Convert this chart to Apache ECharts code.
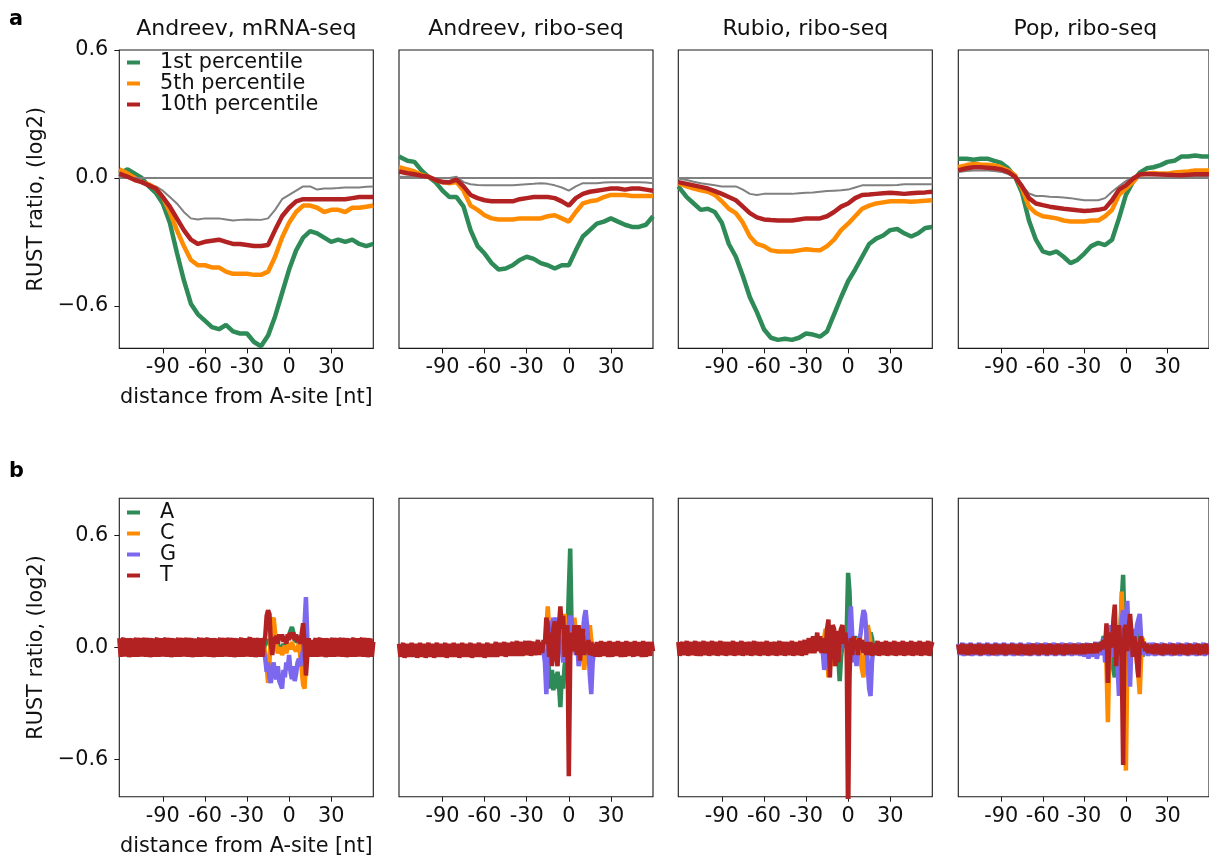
<!DOCTYPE html>
<html><head><meta charset="utf-8">
<script src="https://cdn.jsdelivr.net/npm/echarts@6/dist/echarts.min.js"></script>
<style>html,body{margin:0;padding:0;background:#fff}#c{width:1209px;height:859px}</style>
</head><body><div id="c"></div>
<script>
const TITLES = ['Andreev, mRNA-seq','Andreev, ribo-seq','Rubio, ribo-seq','Pop, ribo-seq'];
const TOP_NAMES = ['1st percentile','5th percentile','10th percentile'];
const NUC_NAMES = ['A','C','G','T'];
const X_TICKS = [-90,-60,-30,0,30];
const Y_TICKS = [-0.6,0,0.6];
const X_MIN = -121, X_MAX = 60;
const X_TOP = [-121,-115,-110,-105,-100,-95,-90,-85,-80,-75,-70,-65,-60,-55,-50,-45,-40,-35,-30,-25,-20,-15,-10,-5,0,5,10,15,20,25,30,35,40,45,50,55,60];

// top row, panel 1
const P1_GRAY = [.005,0,-.01,-.02,-.03,-.04,-.06,-.09,-.12,-.16,-.19,-.195,-.19,-.19,-.19,-.195,-.20,-.197,-.195,-.196,-.197,-.19,-.15,-.10,-.08,-.06,-.04,-.04,-.055,-.05,-.05,-.048,-.045,-.045,-.045,-.042,-.04];
const P1_Q1 = [.02,.04,.02,0,-.04,-.07,-.12,-.21,-.35,-.48,-.59,-.64,-.67,-.70,-.71,-.69,-.72,-.73,-.73,-.77,-.79,-.74,-.65,-.54,-.43,-.34,-.28,-.25,-.26,-.28,-.30,-.29,-.30,-.29,-.31,-.32,-.31];
const P1_Q5 = [.04,.02,0,-.02,-.03,-.05,-.09,-.16,-.245,-.32,-.385,-.41,-.41,-.42,-.42,-.44,-.45,-.45,-.45,-.455,-.455,-.44,-.37,-.28,-.21,-.16,-.13,-.13,-.14,-.16,-.15,-.15,-.16,-.14,-.14,-.135,-.13];
const P1_Q10 = [.02,.005,-.01,-.02,-.035,-.05,-.09,-.135,-.19,-.245,-.29,-.31,-.30,-.295,-.29,-.30,-.31,-.31,-.315,-.32,-.32,-.315,-.245,-.18,-.14,-.11,-.10,-.10,-.10,-.10,-.10,-.10,-.10,-.095,-.09,-.09,-.09];
// panel 2
const P2_GRAY = [.005,.005,.005,.005,.005,0,-.003,0,.005,-.02,-.03,-.033,-.035,-.035,-.035,-.035,-.035,-.032,-.03,-.028,-.025,-.028,-.035,-.045,-.06,-.04,-.025,-.025,-.025,-.022,-.02,-.02,-.02,-.02,-.02,-.022,-.025];
const P2_Q1 = [.10,.08,.075,.035,.005,-.02,-.06,-.09,-.09,-.135,-.245,-.32,-.355,-.40,-.43,-.425,-.41,-.385,-.37,-.38,-.40,-.41,-.425,-.41,-.41,-.34,-.275,-.245,-.215,-.205,-.19,-.205,-.22,-.23,-.23,-.22,-.18];
const P2_Q5 = [.05,.04,.03,.015,.005,-.01,-.02,-.025,-.02,-.06,-.13,-.15,-.175,-.19,-.195,-.195,-.195,-.19,-.19,-.19,-.19,-.18,-.175,-.19,-.205,-.16,-.12,-.11,-.105,-.09,-.08,-.08,-.08,-.085,-.085,-.085,-.085];
const P2_Q10 = [.03,.022,.017,.01,.005,-.01,-.02,-.02,-.008,-.04,-.08,-.095,-.105,-.11,-.11,-.11,-.11,-.10,-.095,-.09,-.09,-.09,-.095,-.11,-.13,-.095,-.075,-.065,-.06,-.055,-.05,-.05,-.055,-.05,-.05,-.055,-.06];
// panel 3
const P3_GRAY = [-.003,-.01,-.018,-.025,-.03,-.035,-.04,-.04,-.04,-.055,-.075,-.08,-.075,-.075,-.075,-.075,-.075,-.072,-.07,-.068,-.065,-.062,-.06,-.058,-.055,-.045,-.035,-.035,-.035,-.035,-.035,-.033,-.03,-.03,-.03,-.03,-.03];
const P3_Q1 = [-.04,-.09,-.12,-.15,-.145,-.16,-.21,-.31,-.37,-.46,-.56,-.63,-.71,-.75,-.76,-.755,-.76,-.75,-.73,-.735,-.745,-.72,-.64,-.56,-.485,-.43,-.37,-.31,-.285,-.27,-.245,-.24,-.26,-.275,-.26,-.235,-.23];
const P3_Q5 = [-.025,-.04,-.05,-.058,-.065,-.08,-.11,-.145,-.165,-.21,-.275,-.31,-.32,-.34,-.345,-.345,-.345,-.34,-.335,-.338,-.34,-.32,-.29,-.245,-.215,-.18,-.145,-.13,-.12,-.115,-.11,-.11,-.11,-.112,-.11,-.107,-.105];
const P3_Q10 = [-.02,-.028,-.035,-.042,-.05,-.062,-.075,-.09,-.105,-.135,-.165,-.185,-.195,-.198,-.20,-.20,-.20,-.195,-.19,-.19,-.19,-.18,-.16,-.135,-.12,-.095,-.08,-.078,-.075,-.072,-.07,-.072,-.075,-.072,-.07,-.068,-.065];
// panel 4
const P4_GRAY = [.028,.032,.035,.035,.035,.032,.028,.018,.005,-.035,-.073,-.085,-.085,-.088,-.09,-.092,-.095,-.10,-.105,-.105,-.105,-.095,-.065,-.04,-.015,.003,.017,.015,.012,.012,.012,.01,.008,.007,.006,.005,.005];
const P4_Q1 = [.09,.09,.085,.09,.09,.08,.07,.045,.005,-.07,-.20,-.29,-.345,-.355,-.345,-.37,-.40,-.385,-.355,-.32,-.305,-.315,-.29,-.19,-.08,-.02,.025,.045,.05,.06,.075,.08,.10,.10,.105,.10,.10];
const P4_Q5 = [.05,.06,.065,.063,.062,.058,.05,.035,.012,-.05,-.135,-.165,-.18,-.185,-.19,-.20,-.205,-.205,-.205,-.20,-.20,-.18,-.15,-.08,-.05,-.02,.015,.02,.023,.02,.02,.025,.028,.03,.035,.035,.035];
const P4_Q10 = [.035,.045,.05,.05,.048,.045,.04,.028,.005,-.04,-.095,-.12,-.128,-.135,-.14,-.145,-.148,-.152,-.155,-.153,-.15,-.143,-.105,-.055,-.035,-.005,.017,.018,.017,.016,.015,.013,.012,.015,.017,.017,.017];

// bottom row: T (and panel-4 G) per nt from X_MIN to X_MAX; A, C, G per nt from C_START
const C_START = -20;
const B1_T = [.05,-.05,.03,.052,-.048,.02,.05,-.052,.03,.048, -.05,.025,.052,-.05,.03,.05,-.048,.02,.052,-.05, .03,.05,-.052,.025,.048,-.05,.03,.052,-.05,.02, .05,-.048,.03,.052,-.05,.025,.05,-.052,.03,.048, -.05,.02,.052,-.05,.03,.05,-.048,.025,.052,-.05, .03,.05,-.052,.02,.048,-.05,.03,.052,-.05,.025, .05,-.048,.03,.052,-.05,.02,.05,-.052,.03,.048, -.05,.025,.052,-.05,.03,.05,-.048,.02,.052,-.05, .03,.05,-.052,.025,.048,-.05,.03,.052,-.05,.02, .05,-.048,.03,.055,-.05,.025,.05,-.052,.03,.05, -.05,
 .05,-.05,.03,.06,.17,.20,.18,.02,-.04,.04, .03,.06,.02,.07,.04,.07,.03,.06,.02,.07, .04,.08,.05,.08,.04,.07,.03,.06,.02,.01, .13,.02,-.15,-.04,.05,-.05,.04,-.05,.03,
 .05,-.05,.03,.052,-.048,.02,.05,-.052,.03,.048, -.05,.025,.052,-.05,.03,.05,-.048,.02,.052,-.05, .03,.05,-.052,.025,.048,-.05,.03,.052,-.05,.02, .05,-.048,.03,.052,-.05,.025,.05,-.052,.03,.048, -.05,.03];
const B1_A = [0,.01,-.01,.02,.04,.05,.03,-.02,.01,0, .02,-.01,.02,0,.01,-.01,.02,0,.03,.05, .06,.09,.11,.08,.04,.05,.03,.06,.07,.03, 0,.02,-.02,.01,0,.01,-.01,0,.01];
const B1_C = [.01,-.02,.01,-.03,-.10,-.19,-.08,.05,.14,.16, .08,0,-.03,-.02,0,-.04,-.02,.01,-.03,0, .02,-.01,.03,0,.01,-.02,0,.02,-.05,-.12, -.20,-.22,-.08,0,.02,-.01,.01,0,.01];
const B1_G = [-.02,.01,-.02,-.06,-.13,-.08,-.16,-.19,-.12,-.08, -.15,-.17,-.10,-.18,-.20,-.22,-.12,-.16,-.08,-.12, -.04,-.13,-.17,-.10,-.18,-.14,-.08,-.06,-.10,-.04, -.02,.12,.27,.05,-.03,-.04,0,-.02,0];

const B2_T = [.02,-.05,-.01,.025,-.055,-.01,.02,-.05,-.02,.025, -.05,-.01,.02,-.055,-.015,.025,-.05,-.01,.02,-.055, -.01,.025,-.05,-.02,.02,-.055,-.01,.025,-.05,-.015, .02,-.05,-.01,.025,-.055,-.01,.02,-.05,-.02,.025, -.05,-.01,.02,-.055,-.015,.025,-.05,-.01,.02,-.05, -.01,.025,-.055,-.015,.02,-.05,-.01,.025,-.05,-.02, .02,-.055,-.01,.025,-.05,-.015,.02,-.05,-.01,.03, -.05,-.01,.025,-.045,-.01,.03,-.05,-.01,.025,-.045, 0,.03,-.045,-.01,.035,-.045,0,.03,-.045,-.01, .035,-.04,0,.035,-.045,.01,.03,-.04,0,.04, -.04,
 .03,-.03,.04,.02,.16,.12,-.05,.08,-.10,.10, .14,-.05,-.10,.12,.22,.10,.17,-.05,.02,.12, -.69,-.05,.08,-.02,.12,.02,-.04,.12,-.07,.05, .10,-.04,.03,-.03,.04,-.04,.03,-.045,.02,
 -.05,.03,-.01,-.05,.035,-.02,-.045,.03,-.01,-.05, .035,-.015,-.05,.03,-.01,-.045,.035,-.02,-.05,.03, -.01,-.05,.035,-.015,-.045,.03,-.01,-.05,.035,-.02, -.045,.03,-.01,-.05,.035,-.015,-.05,.03,-.01,-.045, .03,-.02];
const B2_A = [0,.01,-.01,.01,0,-.02,-.15,-.22,-.12,-.23, -.14,-.22,-.13,-.20,-.32,-.15,-.22,-.10,-.05,.05, .30,.53,.10,0,.04,.02,0,.03,-.02,.02, 0,.01,-.01,.02,0,.01,-.01,0,.01];
const B2_C = [0,.01,-.01,.02,.10,.22,.10,-.02,.12,.05, .15,.03,.10,.05,.08,.02,.12,.18,.08,.03, .10,.05,.12,.06,.16,.08,0,.05,-.03,.02, -.05,-.12,-.02,.05,.08,.12,.04,0,.01];
const B2_G = [-.03,.01,-.02,-.08,-.25,-.05,.12,.14,.10,.16, .12,.16,.10,.05,.02,0,-.08,.02,.10,.05, .12,.17,.15,.08,.02,-.04,.03,-.10,-.04,.02, .08,.16,.20,.12,0,-.15,-.25,-.08,-.02];

const B3_T = [.03,-.045,0,.03,-.04,-.01,.035,-.045,0,.03, -.04,-.005,.035,-.045,0,.03,-.045,-.01,.035,-.04, 0,.03,-.045,-.005,.035,-.04,0,.03,-.045,-.01, .035,-.04,0,.03,-.045,-.005,.03,-.04,0,.035, -.045,-.01,.03,-.04,0,.035,-.045,-.005,.03,-.04, 0,.03,-.045,-.01,.035,-.04,0,.03,-.045,-.005, .03,-.04,0,.035,-.045,-.01,.03,-.04,0,.03, -.045,-.005,.035,-.04,0,.03,-.045,-.01,.03,-.04, 0,.035,-.045,-.005,.03,-.04,0,.035,-.045,0, .04,-.04,.01,.05,-.03,.02,.06,-.03,.02,.08, -.02,
 .06,-.03,.05,.02,-.03,.10,.15,-.16,.02,.12, .10,-.10,.09,-.08,.05,.10,.12,.02,.08,0, -.95,-.15,.05,-.04,.06,0,.04,-.04,.05,.02, .04,-.03,.03,-.04,.03,-.04,.03,-.045,.02,
 -.04,0,.035,-.045,-.005,.03,-.04,0,.035,-.045, -.01,.03,-.04,0,.035,-.045,-.005,.03,-.04,0, .035,-.045,-.01,.03,-.04,0,.035,-.045,-.005,.03, -.04,0,.035,-.045,-.01,.03,-.04,0,.035,-.045, 0,.03];
const B3_A = [0,.01,-.01,.01,0,.02,-.01,.02,0,.01, -.01,.02,0,-.05,-.18,-.05,.02,0,.03,.08, .40,.30,.05,.02,.04,.06,.03,.04,.05,.02, .03,.01,.03,.02,.04,.06,.08,.05,0];
const B3_C = [.01,-.01,.01,.02,.10,0,-.16,-.05,.10,.02, -.10,.05,.08,-.02,.05,.10,.02,.08,.05,.02, -.30,-.10,.08,.05,.02,-.03,.05,-.02,.06,-.08, -.12,-.16,-.05,.05,.12,.08,.02,0,.01];
const B3_G = [-.02,.01,-.03,-.12,-.06,.02,.04,-.03,.06,-.02, .05,-.02,.04,0,-.04,.06,.10,.04,.08,0, -.05,.10,.22,.05,-.08,-.02,-.10,-.02,.03,.08, .15,.20,.18,.08,-.10,-.22,-.26,-.08,0];

const B4_T = [.015,-.035,-.005,.02,-.035,-.01,.015,-.04,-.005,.02, -.035,-.01,.015,-.035,-.005,.02,-.04,-.01,.015,-.035, -.005,.02,-.035,-.01,.015,-.04,-.005,.02,-.035,-.01, .015,-.035,-.005,.02,-.04,-.01,.015,-.035,-.005,.02, -.035,-.01,.015,-.04,-.005,.02,-.035,-.01,.015,-.04, -.005,.015,-.04,-.01,.02,-.035,-.005,.015,-.04,-.01, .02,-.035,-.005,.015,-.04,-.01,.02,-.035,-.005,.015, -.04,-.01,.02,-.035,-.005,.015,-.04,-.01,.02,-.035, -.005,.015,-.035,-.01,.02,-.035,-.005,.015,-.035,-.01, .02,-.035,-.005,.02,-.03,0,.02,-.03,0,.025, -.03,
 .02,-.02,.03,-.01,.04,0,.13,-.19,.02,.08, 0,.15,.23,-.10,.05,.12,0,-.05,-.63,.10, .12,-.02,.10,.18,.08,-.05,.06,.02,-.08,-.16, .02,.06,0,.03,-.02,.02,-.03,.01,-.03,
 .015,-.035,-.005,.02,-.035,-.01,.015,-.04,-.005,.02, -.035,-.01,.015,-.035,-.005,.02,-.04,-.01,.015,-.035, -.005,.02,-.035,-.01,.015,-.04,-.005,.02,-.035,-.01, .015,-.035,-.005,.02,-.04,-.01,.015,-.035,-.005,.02, -.035,-.01];
const B4_A = [0,.01,-.01,.03,.06,.04,.08,0,.05,.02, -.05,-.12,-.16,-.05,.08,.04,.10,.25,.39,.10, .02,.08,.05,-.05,.06,.02,.08,-.03,.05,-.02, .08,.02,-.05,.02,0,.01,-.01,0,.01];
const B4_C = [0,.01,-.01,.01,-.02,.04,-.10,-.40,-.05,.10, .05,-.02,.12,-.05,.10,-.05,.05,.30,.05,-.30, -.66,-.10,.15,.05,-.05,.10,0,.05,-.08,-.15, -.25,-.05,.05,0,.01,-.01,.01,0,.01];
const B4_G = [.02,-.04,-.01,.025,-.045,0,.02,-.04,-.01,.025, -.045,-.005,.02,-.04,-.01,.025,-.045,0,.02,-.04, -.01,.025,-.045,-.005,.02,-.04,-.01,.025,-.045,0, .02,-.04,-.01,.025,-.045,-.005,.02,-.04,-.01,.025, -.045,0,.02,-.04,-.01,.025,-.045,-.005,.02,-.04, -.01,.025,-.045,0,.02,-.04,-.01,.025,-.045,-.005, .02,-.04,-.01,.025,-.045,0,.02,-.04,-.01,.025, -.045,-.005,.02,-.04,-.01,.025,-.045,0,.02,-.04, -.01,.025,-.045,-.005,.02,-.04,-.01,.025,-.045,0, .02,-.05,-.01,.025,-.06,0,.02,-.05,-.02,.03, -.06,
 -.03,.03,.03,-.04,.05,-.08,.10,.02,-.06,.12, .08,-.05,.02,.12,-.10,-.26,.05,.15,.20,.05, .10,.25,.05,-.21,.02,.10,-.05,.05,.12,.15, .18,.05,-.04,.03,-.04,.02,-.045,.025,-.04,
 -.01,.025,-.045,0,.02,-.04,-.01,.025,-.045,-.005, .02,-.04,-.01,.025,-.045,0,.02,-.04,-.01,.025, -.045,-.005,.02,-.04,-.01,.025,-.045,0,.02,-.04, -.01,.025,-.045,-.005,.02,-.04,-.01,.025,-.045,0, .02,-.04];

const TOP_DATA = [[P1_GRAY,P1_Q1,P1_Q5,P1_Q10],[P2_GRAY,P2_Q1,P2_Q5,P2_Q10],[P3_GRAY,P3_Q1,P3_Q5,P3_Q10],[P4_GRAY,P4_Q1,P4_Q5,P4_Q10]];
const BOT_DATA = [[B1_A,B1_C,B1_G,B1_T],[B2_A,B2_C,B2_G,B2_T],[B3_A,B3_C,B3_G,B3_T],[B4_A,B4_C,B4_G,B4_T]];

const GREEN='#2e8b57', ORANGE='#ff8c00', RED='#b22222', PURPLE='#7b68ee', GRAY='#808080';
const FONT = 'DejaVu Sans';
const FS = 20.8;
const TITLE_FS = 22;
const TXT = '#111';
const LW = 4.5;
const COL_LEFT = [119.3, 399, 678.3, 958.3];
const PW = 254, PH = 298.4;
const ROW_TOP = [50, 498.3];
const ROW_YMAX = [0.6, 0.8];

function toPairs(xs, ys){ return ys.map((y,i)=>[xs[i], y]); }
function fromStart(ys){ const s = ys.length > 100 ? X_MIN : C_START; return ys.map((y,i)=>[s+i, y]); }

const grid=[], xAxis=[], yAxis=[], series=[], title=[];
for(let r=0;r<2;r++){
  for(let c=0;c<4;c++){
    const g = r*4+c;
    grid.push({left:COL_LEFT[c], top:ROW_TOP[r], width:PW, height:PH, show:true, borderColor:'#1a1a1a', borderWidth:1.1, backgroundColor:'transparent', containLabel:false});
    xAxis.push({type:'value', gridIndex:g, min:X_MIN, max:X_MAX, position:'bottom',
      axisLine:{show:false, onZero:false}, splitLine:{show:false},
      axisTick:{show:true, customValues:X_TICKS, length:5, lineStyle:{color:'#1a1a1a', width:1}},
      axisLabel:{show:true, customValues:X_TICKS, formatter:v=>String(v), fontSize:FS, fontFamily:FONT, color:TXT, margin:9},
      name: c===0 ? 'distance from A-site [nt]' : '', nameLocation:'middle', nameGap:39,
      nameTextStyle:{fontSize:FS, fontFamily:FONT, color:TXT}});
    yAxis.push({type:'value', gridIndex:g, min:-0.8, max:ROW_YMAX[r], position:'left',
      axisLine:{show:false, onZero:false}, splitLine:{show:false},
      axisTick:{show:c===0, customValues:Y_TICKS, length:5, lineStyle:{color:'#1a1a1a', width:1}},
      axisLabel:{show:c===0, customValues:Y_TICKS, fontSize:FS, fontFamily:FONT, color:TXT, margin:11,
        formatter:v=> Math.abs(v)<1e-9 ? '0.0' : (v<0?'\u2212':'')+Math.abs(v).toFixed(1)},
      name: c===0 ? 'RUST ratio, (log2)' : '', nameLocation:'middle', nameGap:72, nameRotate:90,
      nameTextStyle:{fontSize:FS, fontFamily:FONT, color:TXT}});
    if(r===0){
      title.push({text:TITLES[c], left:COL_LEFT[c]+PW/2, top:18, textAlign:'center', padding:0,
        textStyle:{fontSize:TITLE_FS, fontFamily:FONT, color:TXT, fontWeight:'normal'}});
      const d = TOP_DATA[c];
      series.push({type:'line', name:'median', xAxisIndex:g, yAxisIndex:g, data:toPairs(X_TOP,d[0]), showSymbol:false, symbol:'none',
        lineStyle:{color:GRAY, width:2}, itemStyle:{color:GRAY}, z:2,
        markLine:{silent:true, symbol:'none', label:{show:false}, lineStyle:{color:GRAY, width:2, type:'solid'}, data:[{yAxis:0}], animation:false}});
      const cols=[GREEN,ORANGE,RED];
      for(let k=0;k<3;k++){
        series.push({type:'line', name:TOP_NAMES[k], xAxisIndex:g, yAxisIndex:g, data:toPairs(X_TOP,d[k+1]), showSymbol:false, symbol:'none',
          lineStyle:{color:cols[k], width:LW}, itemStyle:{color:cols[k]}, z:3+k});
      }
    } else {
      const d = BOT_DATA[c];
      const cols=[GREEN,ORANGE,PURPLE,RED];
      for(let k=0;k<4;k++){
        series.push({type:'line', name:NUC_NAMES[k], xAxisIndex:g, yAxisIndex:g, data:fromStart(d[k]), showSymbol:false, symbol:'none',
          lineStyle:{color:cols[k], width:LW}, itemStyle:{color:cols[k]}, z:3+k});
      }
    }
  }
}
title.push({text:'a', left:9, top:9, padding:0, textStyle:{fontSize:FS, fontFamily:FONT, color:'#000', fontWeight:'bold'}});
title.push({text:'b', left:9, top:461, padding:0, textStyle:{fontSize:FS, fontFamily:FONT, color:'#000', fontWeight:'bold'}});

const legendBase = {orient:'vertical', left:127, itemWidth:13, itemHeight:4, itemGap:0, icon:'rect', padding:0, selectedMode:false,
  textStyle:{fontSize:FS, fontFamily:FONT, color:TXT, padding:[0,0,0,15], lineHeight:21}};
const legend = [
  Object.assign({}, legendBase, {data:TOP_NAMES, top:52}),
  Object.assign({}, legendBase, {data:NUC_NAMES, top:502})
];

const chart = echarts.init(document.getElementById('c'), null, {renderer:'canvas'});
chart.setOption({animation:false, backgroundColor:'#fff', title, legend, grid, xAxis, yAxis, series});
</script>
</body></html>
